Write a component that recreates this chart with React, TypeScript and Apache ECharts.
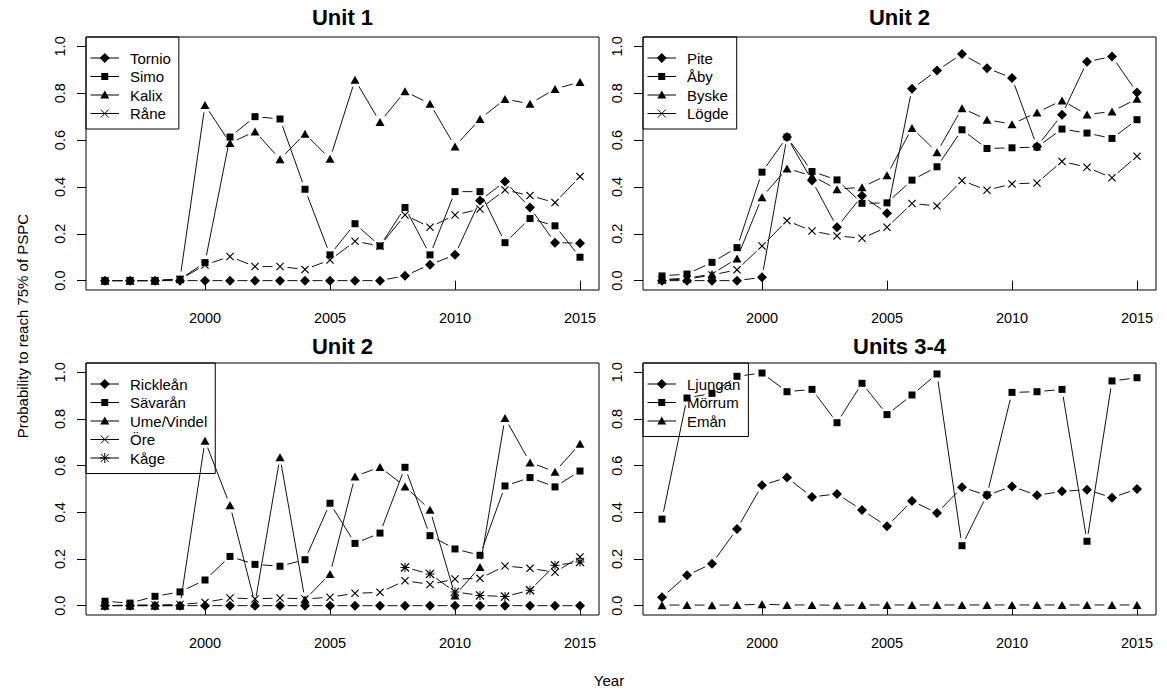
import React, { useEffect, useRef } from 'react';
import * as echarts from 'echarts';

// ---------------- data ----------------
const years = [1996, 1997, 1998, 1999, 2000, 2001, 2002, 2003, 2004, 2005, 2006, 2007, 2008, 2009, 2010, 2011, 2012, 2013, 2014, 2015];
const xTicks = [2000, 2005, 2010, 2015];
const yTicks = [0, 0.2, 0.4, 0.6, 0.8, 1.0];
const yTickLabels = ['0.0', '0.2', '0.4', '0.6', '0.8', '1.0'];

const panelTitles = ['Unit 1', 'Unit 2', 'Unit 2', 'Units 3-4'];
const yAxisTitle = 'Probability to reach 75% of PSPC';
const xAxisTitle = 'Year';

// Unit 1
const unit1Names = ['Tornio', 'Simo', 'Kalix', 'Råne'];
const tornio = [0, 0, 0, 0, 0, 0, 0, 0, 0, 0, 0, 0, 0.021, 0.068, 0.11, 0.342, 0.423, 0.312, 0.162, 0.16];
const simo = [0, 0, 0, 0.006, 0.077, 0.613, 0.70, 0.69, 0.39, 0.11, 0.243, 0.148, 0.312, 0.11, 0.38, 0.38, 0.162, 0.265, 0.234, 0.10];
const kalix = [0, 0, 0, 0.008, 0.75, 0.587, 0.637, 0.518, 0.627, 0.52, 0.857, 0.677, 0.808, 0.755, 0.573, 0.69, 0.775, 0.755, 0.818, 0.848];
const rane = [0, 0, 0, 0.005, 0.067, 0.103, 0.06, 0.06, 0.048, 0.088, 0.168, 0.148, 0.28, 0.228, 0.28, 0.306, 0.387, 0.363, 0.333, 0.444];

// Unit 2 (north)
const unit2aNames = ['Pite', 'Åby', 'Byske', 'Lögde'];
const pite = [0, 0, 0, 0, 0.014, 0.613, 0.427, 0.228, 0.362, 0.288, 0.819, 0.897, 0.967, 0.907, 0.865, 0.573, 0.708, 0.934, 0.957, 0.803];
const aby = [0.02, 0.028, 0.078, 0.141, 0.463, 0.613, 0.466, 0.43, 0.33, 0.332, 0.429, 0.486, 0.644, 0.564, 0.567, 0.57, 0.647, 0.63, 0.607, 0.687];
const byske = [0.005, 0.01, 0.028, 0.095, 0.356, 0.479, 0.447, 0.39, 0.399, 0.45, 0.652, 0.548, 0.736, 0.687, 0.668, 0.718, 0.769, 0.709, 0.722, 0.776];
const logde = [0.003, 0.006, 0.024, 0.046, 0.148, 0.256, 0.212, 0.191, 0.181, 0.228, 0.329, 0.319, 0.427, 0.386, 0.413, 0.417, 0.509, 0.484, 0.439, 0.531];

// Unit 2 (south)
const unit2bNames = ['Rickleån', 'Sävarån', 'Ume/Vindel', 'Öre', 'Kåge'];
const ricklean = [0, 0, 0, 0, 0, 0, 0, 0, 0, 0, 0, 0, 0, 0, 0, 0, 0, 0, 0, 0];
const savaran = [0.019, 0.011, 0.04, 0.059, 0.11, 0.211, 0.177, 0.169, 0.197, 0.439, 0.267, 0.311, 0.593, 0.30, 0.243, 0.216, 0.513, 0.549, 0.509, 0.577];
const umeVindel = [0, 0, 0, 0, 0.707, 0.43, 0.01, 0.636, 0.026, 0.136, 0.554, 0.594, 0.511, 0.411, 0.044, 0.166, 0.804, 0.614, 0.574, 0.694];
const ore = [0, 0.003, 0.003, 0.005, 0.014, 0.033, 0.029, 0.033, 0.029, 0.036, 0.053, 0.057, 0.107, 0.091, 0.114, 0.117, 0.17, 0.16, 0.143, 0.209];
const kage = [null, null, null, null, null, null, null, null, null, null, null, null, 0.164, 0.136, 0.059, 0.044, 0.039, 0.066, 0.173, 0.187];

// Units 3-4
const unit34Names = ['Ljungan', 'Mörrum', 'Emån'];
const ljungan = [0.036, 0.13, 0.18, 0.329, 0.516, 0.549, 0.466, 0.479, 0.41, 0.34, 0.449, 0.397, 0.507, 0.473, 0.511, 0.473, 0.49, 0.497, 0.463, 0.50];
const morrum = [0.371, 0.89, 0.91, 0.983, 0.997, 0.917, 0.927, 0.784, 0.953, 0.819, 0.903, 0.993, 0.257, 0.475, 0.914, 0.917, 0.927, 0.276, 0.963, 0.977];
const eman = [0.002, 0.003, 0.002, 0.003, 0.006, 0.003, 0.003, 0.002, 0.003, 0.003, 0.003, 0.003, 0.003, 0.003, 0.003, 0.003, 0.003, 0.003, 0.003, 0.003];

// ---------------- layout / style ----------------
const FONT = '"Liberation Sans", Arial, Helvetica, sans-serif';
const W = 1167;
const H = 690;
const GAP = 7.5;

const boxes = [
  { left: 86, top: 37, width: 513, height: 253, titleY: 17 },
  { left: 643, top: 37, width: 513, height: 253, titleY: 17 },
  { left: 86, top: 363, width: 513, height: 252, titleY: 346.5 },
  { left: 643, top: 363, width: 513, height: 252, titleY: 346.5 },
];

const panels = [
  { names: unit1Names, series: [tornio, simo, kalix, rane] },
  { names: unit2aNames, series: [pite, aby, byske, logde] },
  { names: unit2bNames, series: [ricklean, savaran, umeVindel, ore, kage] },
  { names: unit34Names, series: [ljungan, morrum, eman] },
];

const CROSS = 'path://M0,1L1,0L5,4L9,0L10,1L6,5L10,9L9,10L5,6L1,10L0,9L4,5Z';
const ASTER = 'path://M0,1L1,0L5,4L9,0L10,1L6,5L10,9L9,10L5,6L1,10L0,9L4,5Z M4.45,0L5.55,0L5.55,10L4.45,10Z M0,4.45L10,4.45L10,5.55L0,5.55Z';
const symbolDefs = [
  { symbol: 'diamond', size: [10, 10] },
  { symbol: 'rect', size: [7, 7] },
  { symbol: 'triangle', size: [9, 8] },
  { symbol: CROSS, size: [8, 8] },
  { symbol: ASTER, size: [9, 9] },
];

function measure(text: string, size: number) {
  const c = document.createElement('canvas');
  const ctx = c.getContext('2d');
  if (!ctx) return text.length * size * 0.55;
  ctx.font = `${size}px ${FONT}`;
  return ctx.measureText(text).width;
}

function legendSymbol(kind: number, cx: number, cy: number): any[] {
  const st = { fill: '#000' };
  const ls = { stroke: '#000', lineWidth: 1 };
  if (kind === 0) return [{ type: 'polygon', shape: { points: [[cx, cy - 5], [cx + 5, cy], [cx, cy + 5], [cx - 5, cy]] }, style: st }];
  if (kind === 1) return [{ type: 'rect', shape: { x: cx - 3.5, y: cy - 3.5, width: 7, height: 7 }, style: st }];
  if (kind === 2) return [{ type: 'polygon', shape: { points: [[cx, cy - 4.5], [cx + 4.5, cy + 3.5], [cx - 4.5, cy + 3.5]] }, style: st }];
  const out: any[] = [
    { type: 'line', shape: { x1: cx - 4, y1: cy - 4, x2: cx + 4, y2: cy + 4 }, style: ls },
    { type: 'line', shape: { x1: cx - 4, y1: cy + 4, x2: cx + 4, y2: cy - 4 }, style: ls },
  ];
  if (kind === 4) {
    out.push({ type: 'line', shape: { x1: cx - 5, y1: cy, x2: cx + 5, y2: cy }, style: ls });
    out.push({ type: 'line', shape: { x1: cx, y1: cy - 5, x2: cx, y2: cy + 5 }, style: ls });
  }
  return out;
}

function buildOption() {
  const grid: any[] = [];
  const xAxis: any[] = [];
  const yAxis: any[] = [];
  const series: any[] = [];
  const graphic: any[] = [];

  boxes.forEach((b, i) => {
    grid.push({ left: b.left, top: b.top, width: b.width, height: b.height, show: true, borderColor: '#000', borderWidth: 1, backgroundColor: 'transparent', containLabel: false });
    xAxis.push({
      gridIndex: i, type: 'value', min: 1995.24, max: 2015.76,
      axisLine: { show: false }, splitLine: { show: false },
      axisTick: { show: true, inside: false, length: 9, customValues: xTicks, lineStyle: { color: '#000', width: 1 } },
      axisLabel: { customValues: xTicks, fontSize: 14.5, fontFamily: FONT, color: '#000', margin: 20, formatter: (v: number) => String(Math.round(v)) },
    });
    yAxis.push({
      gridIndex: i, type: 'value', min: -0.04, max: 1.04,
      axisLine: { show: false }, splitLine: { show: false },
      axisTick: { show: true, inside: false, length: 9, customValues: yTicks, lineStyle: { color: '#000', width: 1 } },
      axisLabel: {
        customValues: yTicks, rotate: 90, fontSize: 14.5, fontFamily: FONT, color: '#000', margin: 19,
        formatter: (v: number) => { const k = yTicks.findIndex((t) => Math.abs(t - v) < 1e-6); return k >= 0 ? yTickLabels[k] : v.toFixed(1); },
      },
    });

    const p = panels[i];
    p.series.forEach((vals, s) => {
      const segs: any[] = [];
      for (let k = 0; k < years.length - 1; k++) {
        if (vals[k] != null && vals[k + 1] != null) segs.push([years[k], vals[k], years[k + 1], vals[k + 1]]);
      }
      series.push({
        type: 'custom', name: p.names[s] + ' line', xAxisIndex: i, yAxisIndex: i, coordinateSystem: 'cartesian2d',
        encode: { x: [0, 2], y: [1, 3] }, data: segs, silent: true, clip: false,
        renderItem: (params: any, api: any) => {
          const a = api.coord([api.value(0), api.value(1)]);
          const c = api.coord([api.value(2), api.value(3)]);
          const dx = c[0] - a[0];
          const dy = c[1] - a[1];
          const L = Math.hypot(dx, dy);
          if (L <= 2 * GAP) return { type: 'group', children: [] };
          const ux = dx / L;
          const uy = dy / L;
          return {
            type: 'line',
            shape: { x1: a[0] + ux * GAP, y1: a[1] + uy * GAP, x2: c[0] - ux * GAP, y2: c[1] - uy * GAP },
            style: { stroke: '#111', lineWidth: 1 },
          };
        },
      });
      const pts: any[] = [];
      vals.forEach((v, k) => { if (v != null) pts.push([years[k], v]); });
      series.push({
        type: 'scatter', name: p.names[s], xAxisIndex: i, yAxisIndex: i, data: pts, silent: true,
        symbol: symbolDefs[s].symbol, symbolSize: symbolDefs[s].size,
        itemStyle: { color: '#000', opacity: 1 },
      });
    });

    // title
    graphic.push({
      type: 'text', x: b.left + b.width / 2, y: b.titleY,
      style: { text: panelTitles[i], fontSize: 22, fontWeight: 'bold', fontFamily: FONT, fill: '#000', align: 'center', verticalAlign: 'middle' },
    });

    // legend
    const maxW = Math.max(...p.names.map((n) => measure(n, 15)));
    const lw = 44 + maxW + 8;
    const lh = 36.5 + 18.5 * (p.names.length - 1);
    graphic.push({ type: 'rect', shape: { x: b.left, y: b.top, width: lw, height: lh }, style: { fill: 'none', stroke: '#000', lineWidth: 1 }, z: 0 });
    p.names.forEach((n, s) => {
      const cy = b.top + 21 + 18.5 * s;
      graphic.push({ type: 'line', shape: { x1: b.left + 4.5, y1: cy, x2: b.left + 33, y2: cy }, style: { stroke: '#000', lineWidth: 1 }, z: 0 });
      legendSymbol(s, b.left + 18.75, cy).forEach((g) => graphic.push({ ...g, z: 0 }));
      graphic.push({ type: 'text', x: b.left + 44, y: cy, z: 0, style: { text: n, fontSize: 15, fontFamily: FONT, fill: '#000', align: 'left', verticalAlign: 'middle' } });
    });
  });

  graphic.push({
    type: 'text', x: 22, y: 326, rotation: Math.PI / 2,
    style: { text: yAxisTitle, fontSize: 15, fontFamily: FONT, fill: '#000', align: 'center', verticalAlign: 'middle' },
  });
  graphic.push({
    type: 'text', x: 609, y: 680,
    style: { text: xAxisTitle, fontSize: 15, fontFamily: FONT, fill: '#000', align: 'center', verticalAlign: 'middle' },
  });

  return { animation: false, backgroundColor: '#fff', grid, xAxis, yAxis, series, graphic };
}

export default function App() {
  const ref = useRef<HTMLDivElement>(null);
  useEffect(() => {
    if (!ref.current) return;
    const chart = echarts.init(ref.current, undefined, { renderer: 'svg' });
    chart.setOption(buildOption() as any);
    return () => chart.dispose();
  }, []);
  return <div ref={ref} style={{ position: 'absolute', left: 0, top: 0, width: W, height: H, background: '#fff' }} />;
}
